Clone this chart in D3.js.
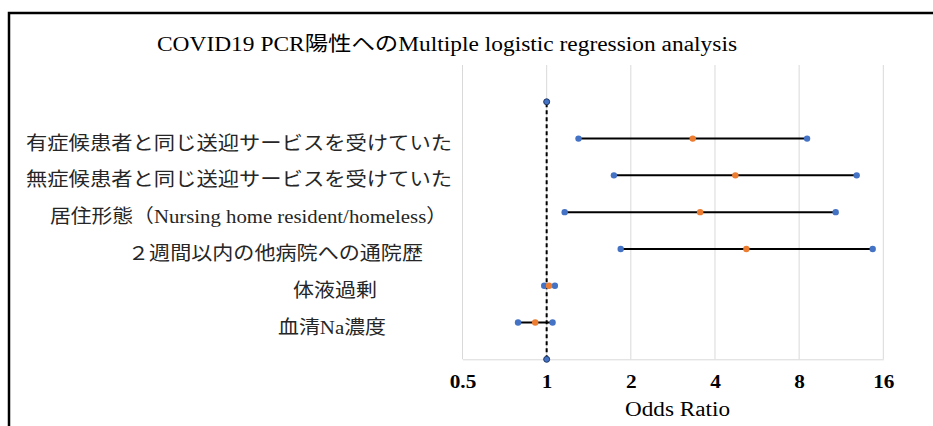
<!DOCTYPE html>
<html lang="ja">
<head>
<meta charset="utf-8">
<script src="https://cdn.jsdelivr.net/npm/d3@7"></script>
<style>
  html, body { margin: 0; padding: 0; background: #fff; }
  svg { display: block; }
</style>
</head>
<body>
<svg id="chart" width="933" height="426"></svg>
<script>
// ------------------------------------------------------------
// Dati: odds ratio e IC 95% per ogni variabile (dall'alto in basso)
// ------------------------------------------------------------
const labels = [
  "有症候患者と同じ送迎サービスを受けていた",
  "無症候患者と同じ送迎サービスを受けていた",
  "居住形態（Nursing home resident/homeless）",
  "２週間以内の他病院への通院歴",
  "体液過剰",
  "血清Na濃度"
];
const oddsRatio = [3.33, 4.73, 3.54, 5.18, 1.02, 0.91];
const ciLow = [1.30, 1.74, 1.16, 1.84, 0.98, 0.79];
const ciHigh = [8.54, 12.85, 10.81, 14.66, 1.07, 1.05];
const xTicks = [0.5, 1, 2, 4, 8, 16];
const refLineY = [0, 7]; // linea di riferimento OR = 1

const title = "COVID19 PCR陽性へのMultiple logistic regression analysis";
const xTitle = "Odds Ratio";

// estensione orizzontale delle etichette (inizio, fine) come nel grafico Excel
const labelSpan = [[26, 452], [26, 452], [50, 447], [128, 423], [293, 377], [278, 386]];

const FONT = "'Liberation Serif', 'Noto Sans CJK JP', serif";
const width = 933, height = 426;
const svg = d3.select("#chart");

svg.append("rect").attr("width", width).attr("height", height).attr("fill", "#fff");

// cornice nera dell'area grafico
svg.append("path")
  .attr("d", `M9,${height} V13 H${width}`)
  .attr("fill", "none")
  .attr("stroke", "#000")
  .attr("stroke-width", 2.5);

// scale
const x = d3.scaleLog().base(2).domain([0.5, 16]).range([462.5, 883.3]);
const y = d3.scaleLinear().domain([0, 8]).range([359.3, 65]);

// griglia verticale
svg.append("g")
  .selectAll("line")
  .data(xTicks)
  .join("line")
  .attr("x1", (d) => x(d)).attr("x2", (d) => x(d))
  .attr("y1", y(8)).attr("y2", y(0))
  .attr("stroke", "#d9d9d9")
  .attr("stroke-width", 1);

// asse X
const xAxis = d3.axisBottom(x).tickValues(xTicks).tickSize(0).tickPadding(0)
  .tickFormat((d) => String(d));
const gx = svg.append("g")
  .attr("transform", `translate(0,${y(0)})`)
  .call(xAxis);
gx.attr("font-family", null).attr("font-size", null);
gx.select(".domain").attr("stroke", "#d9d9d9").attr("stroke-width", 1);
gx.selectAll("text")
  .attr("font-family", FONT)
  .attr("font-size", 18.5)
  .attr("font-weight", "bold")
  .attr("fill", "#000")
  .attr("dy", null)
  .attr("y", 29)
  .attr("transform", "scale(1.15,1)");

// linea tratteggiata OR = 1
svg.append("line")
  .attr("x1", x(1)).attr("x2", x(1))
  .attr("y1", y(refLineY[0])).attr("y2", y(refLineY[1]))
  .attr("stroke", "#000")
  .attr("stroke-width", 2)
  .attr("stroke-dasharray", "4,3");

svg.append("g")
  .selectAll("circle")
  .data(refLineY)
  .join("circle")
  .attr("cx", x(1))
  .attr("cy", (d) => y(d))
  .attr("r", 3)
  .attr("fill", "#4472C4")
  .attr("stroke", "#1f3864")
  .attr("stroke-width", 1);

// righe: posizione y = n - indice
const rows = labels.map((l, i) => ({
  label: l, or: oddsRatio[i], lo: ciLow[i], hi: ciHigh[i], pos: labels.length - i, i
}));

// intervalli di confidenza
svg.append("g")
  .selectAll("line")
  .data(rows)
  .join("line")
  .attr("x1", (d) => x(d.lo)).attr("x2", (d) => x(d.hi))
  .attr("y1", (d) => y(d.pos)).attr("y2", (d) => y(d.pos))
  .attr("stroke", "#000")
  .attr("stroke-width", 2);

// estremi IC (blu)
svg.append("g")
  .selectAll("circle")
  .data(rows.flatMap((d) => [{ v: d.lo, pos: d.pos }, { v: d.hi, pos: d.pos }]))
  .join("circle")
  .attr("cx", (d) => x(d.v))
  .attr("cy", (d) => y(d.pos))
  .attr("r", 3.2)
  .attr("fill", "#4472C4");

// odds ratio (arancione)
svg.append("g")
  .selectAll("circle")
  .data(rows)
  .join("circle")
  .attr("cx", (d) => x(d.or))
  .attr("cy", (d) => y(d.pos))
  .attr("r", 3.2)
  .attr("fill", "#ED7D31");

// etichette delle variabili
svg.append("g")
  .selectAll("text")
  .data(rows)
  .join("text")
  .attr("font-family", FONT)
  .attr("x", (d) => labelSpan[d.i][0])
  .attr("y", (d) => y(d.pos) + 11)
  .attr("font-size", 19)
  .attr("fill", "#262626")
  .attr("textLength", (d) => labelSpan[d.i][1] - labelSpan[d.i][0])
  .attr("lengthAdjust", "spacingAndGlyphs")
  .text((d) => d.label);

// titolo
svg.append("text")
  .attr("font-family", FONT)
  .attr("x", 157)
  .attr("y", 51)
  .attr("font-size", 20)
  .attr("fill", "#000")
  .attr("textLength", 580)
  .attr("lengthAdjust", "spacingAndGlyphs")
  .text(title);

// titolo asse X
svg.append("text")
  .attr("font-family", FONT)
  .attr("x", 625)
  .attr("y", 416)
  .attr("font-size", 20)
  .attr("fill", "#000")
  .attr("textLength", 105)
  .attr("lengthAdjust", "spacingAndGlyphs")
  .text(xTitle);
</script>
</body>
</html>
